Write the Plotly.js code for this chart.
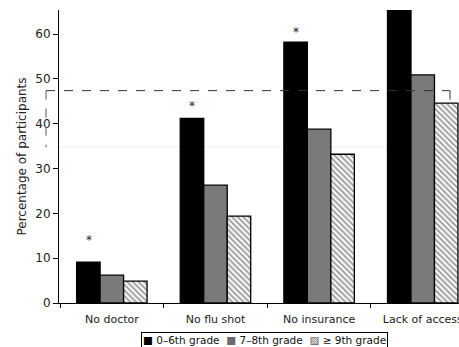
<!DOCTYPE html>
<html>
<head>
<meta charset="utf-8">
<script src="https://cdn.plot.ly/plotly-3.0.1.min.js"></script>
<style>html,body{margin:0;padding:0;background:#fff;}#chart{width:459px;height:347px;}</style>
</head>
<body>
<div id="chart"></div>
<script>
const categories = ["No doctor", "No flu shot", "No insurance", "Lack of access"];
const seriesNames = ["0\u20136th grade", "7\u20138th grade", "\u2265 9th grade"];
const grade0to6 = [9.1, 41.2, 58.2, 65.4];
const grade7to8 = [6.2, 26.3, 38.8, 50.9];
const grade9plus = [4.9, 19.4, 33.2, 44.6];
const sigLabels = ["*", "*", "*"];
const sigLevels = [14.0, 43.9, 60.4];
const refLevel = 47.4;
const yTicks = [0, 10, 20, 30, 40, 50, 60];

const font = "DejaVu Sans, Arial, sans-serif";
const colors = ["#000", "#7a7a7a", "#fff"];
const legendGlyphs = ["\u25A0", "\u25A0", "\u25A8"];
const legendGlyphColors = ["#000", "#6a6a6a", "#555"];

const traces = [
  {type: "bar", x: categories, name: seriesNames[0], y: grade0to6,
    marker: {color: colors[0], line: {color: "#000", width: 1.3}}},
  {type: "bar", x: categories, name: seriesNames[1], y: grade7to8,
    marker: {color: colors[1], line: {color: "#000", width: 1.3}}},
  {type: "bar", x: categories, name: seriesNames[2], y: grade9plus,
    marker: {color: colors[2], line: {color: "#000", width: 1.3},
      pattern: {shape: "\\", fgcolor: "#8a8a8a", bgcolor: "#f4f4f4", size: 4, solidity: 0.35}}}
];

const annotations = sigLabels.map((s, i) => ({
  x: categories[i], y: sigLevels[i], xref: "x", yref: "y", text: s, showarrow: false,
  xshift: -23, font: {family: font, size: 12, color: "#222"}
}));

// legend drawn as one boxed text line, like the reference's compact key
const legendText = seriesNames.map((n, i) =>
  "<span style='color:" + legendGlyphColors[i] + "'>" + legendGlyphs[i] + "</span> " + n).join("  ");
annotations.push({
  xref: "paper", yref: "paper", x: 0.5125, y: -0.1246, xanchor: "center", yanchor: "middle",
  text: legendText, showarrow: false, bordercolor: "#000", borderwidth: 1, borderpad: 1,
  bgcolor: "#fff", font: {family: font, size: 10.5, color: "#111"}
});

const shapes = [
  {type: "line", xref: "paper", yref: "y", x0: -0.0325, x1: 0.9775, y0: refLevel, y1: refLevel,
   line: {color: "#333", width: 1, dash: "dash"}},
  {type: "line", xref: "paper", yref: "y", x0: -0.0325, x1: -0.0325, y0: refLevel, y1: 34.8,
   line: {color: "#555", width: 1, dash: "dash"}},
  {type: "line", xref: "paper", yref: "y", x0: 0.9775, x1: 0.9775, y0: refLevel, y1: grade9plus[3],
   line: {color: "#333", width: 1, dash: "dash"}},
  {type: "line", xref: "paper", yref: "y", x0: 0, x1: 1, y0: 34.8, y1: 34.8, layer: "below",
   line: {color: "#ececec", width: 1}}
];

const layout = {
  width: 459, height: 347,
  margin: {l: 59, r: 0, t: 10, b: 44, autoexpand: false},
  paper_bgcolor: "#fff", plot_bgcolor: "#fff",
  barmode: "group", bargap: 0.32, bargroupgap: 0,
  font: {family: font, size: 12, color: "#222"},
  xaxis: {range: [-0.51, 3.35], showline: true, linecolor: "#000", linewidth: 1,
    ticks: "outside", tickson: "boundaries", ticklen: 4, tickcolor: "#000",
    ticklabelstandoff: 6, automargin: false,
    showgrid: false, zeroline: false, tickfont: {family: font, size: 11, color: "#222"}},
  yaxis: {range: [0, 65.4], tickvals: yTicks, showline: true, linecolor: "#000", linewidth: 1,
    ticks: "outside", ticklen: 5, tickcolor: "#000", showgrid: false, zeroline: false, automargin: false,
    tickfont: {family: font, size: 12, color: "#222"},
    title: {text: "Percentage of participants", font: {family: font, size: 12, color: "#222"}, standoff: 6}},
  showlegend: false,
  annotations: annotations,
  shapes: shapes
};

Plotly.newPlot("chart", traces, layout, {displayModeBar: false, staticPlot: true});
</script>
</body>
</html>
